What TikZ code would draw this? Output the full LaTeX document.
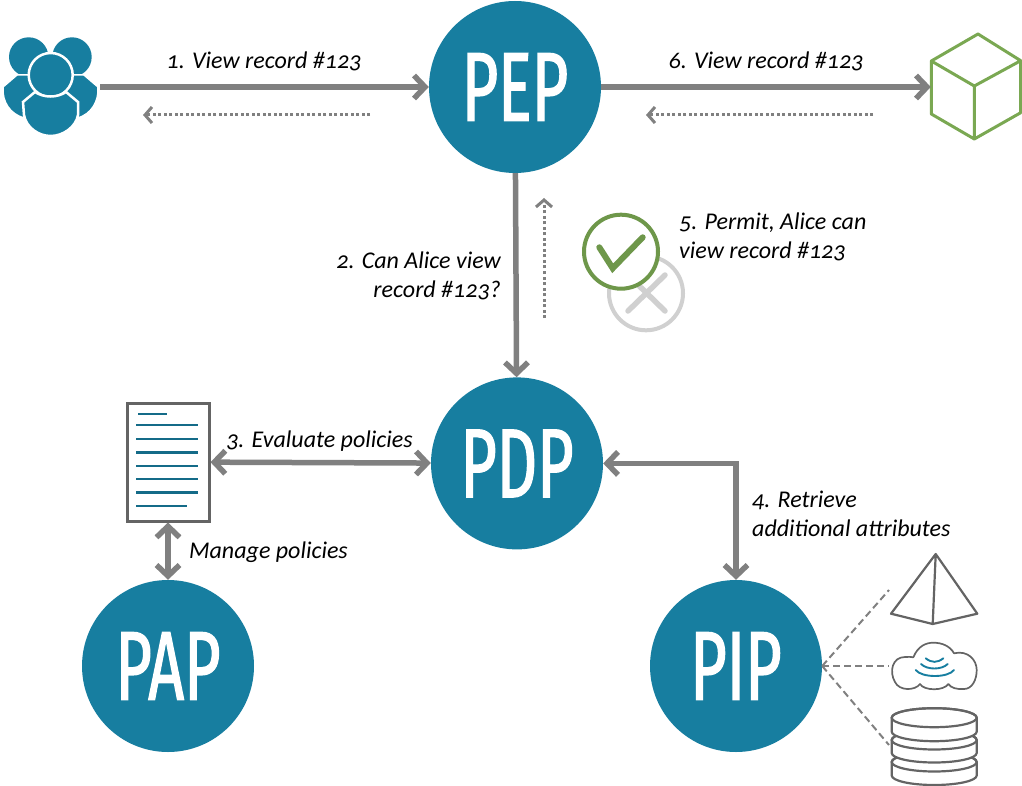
\documentclass[tikz,border=0pt]{standalone}
\usepackage{fontspec}
\setmainfont[Numbers=OldStyle]{Carlito}
\newfontfamily\bigfont[FakeStretch=0.64,FakeBold=1.2]{Fira Sans}
\usetikzlibrary{arrows.meta,positioning}
\definecolor{tealblue}{RGB}{23,126,160}
\definecolor{arrowgray}{RGB}{128,128,128}
\definecolor{icongray}{RGB}{100,100,100}
\definecolor{leafgreen}{RGB}{122,168,82}
\definecolor{softgray}{RGB}{208,208,208}
\tikzset{
  point/.style={circle, fill=tealblue, minimum size=172pt, inner sep=0pt, text=white,
                font=\bigfont\fontsize{98}{98}\selectfont},
  iconbox/.style={rectangle, minimum width=100pt, minimum height=100pt, inner sep=0pt},
  arrow/.style={-{Straight Barb[length=11pt, width=23pt]}, line width=5.5pt, arrowgray},
  arrowboth/.style={{Straight Barb[length=11pt, width=23pt]}-{Straight Barb[length=11pt, width=23pt]}, line width=5.5pt, arrowgray},
  arrowback/.style={-{Straight Barb[length=7pt, width=16pt]}, line width=3pt, arrowgray, dash pattern=on 3pt off 2.5pt},
  spoke/.style={line width=2pt, arrowgray, dash pattern=on 7pt off 4pt},
  steptext/.style={font=\fontsize{24}{29}\selectfont\itshape, inner sep=0pt},
  outline/.style={line width=2.2pt, icongray, line join=round},
}
\begin{document}
\begin{tikzpicture}[x=1pt, y=-1pt]
\useasboundingbox (0,0) rectangle (1022,786);

\node[point] (pep) at (515,87) {PEP};
\node[point, below=204pt of pep, xshift=2pt] (pdp) {PDP};
\node[point] (pap) at (168,666) {PAP};
\node[point] (pip) at (736,666) {PIP};

% people on the left
\node[iconbox] (users) at (50,87) {};
\fill[tealblue] (28.7,57) circle[radius=19.7pt] (72,57) circle[radius=19.7pt];
\fill[tealblue, draw=white, line width=1.5pt] (17,75) -- (3,87) .. controls (2,102) and (10,114) .. (24,118) -- (78,118)
  .. controls (91,114) and (99,102) .. (98,87) -- (84,75) -- cycle;
\fill[tealblue, draw=white, line width=2.5pt] (50.7,75) circle[radius=22pt];
\fill[tealblue, draw=white, line width=2.5pt] (23,102) -- (35,92) .. controls (44,98) and (57,98) .. (66,92) -- (78,102)
  -- (78,115) .. controls (76,127) and (63,136) .. (50.7,136) .. controls (38,136) and (26,127) .. (24,115) -- cycle;

% record box on the right
\node[iconbox, minimum width=90pt, minimum height=105pt] (record) at (976,87) {};
\draw[line width=3pt, leafgreen, line join=round] (978,34) -- (931.3,61) -- (931.3,114) -- (974.3,139) -- (1020.7,112.7)
  -- (1020.7,60.7) -- cycle (931.3,61) -- (974.3,86) -- (1020.7,60.7) (974.3,86) -- (974.3,139);

% policy sheet
\node[rectangle, draw=icongray, line width=3pt, fill=white, minimum width=82pt, minimum height=118pt] (sheet) at (168,462) {};
\draw[line width=2.4pt, tealblue!85!black] (138,414) -- (167,414);
\foreach \y in {425,438.7,452.3,465.7,479,492.3}
  \draw[line width=2.4pt, tealblue!85!black] (136,\y) -- (198,\y);
\draw[line width=2.4pt, tealblue!85!black] (136,506) -- (187,506);

% permit and deny marks
\draw[softgray, line width=4pt] (646,293.3) circle[radius=37pt];
\draw[softgray, line width=5.5pt, line cap=round] (628,311) -- (665,275) (628,275) -- (665,311);
\draw[leafgreen!90!black, fill=white, line width=4pt] (621,251.7) circle[radius=37pt];
\draw[leafgreen!90!black, line width=6pt, line cap=round] (599.3,247.3) -- (612.7,268.3) -- (642.7,237.3);

% data sources next to pip
\draw[outline, fill=white] (935.7,554) -- (891,613.7) -- (932.7,624) -- (977.3,613.7) -- cycle (935.7,554) -- (932.7,624);
\draw[outline, line width=1.7pt] (913.3,657.3) .. controls (918,646) and (926,642.7) .. (933.3,642.7)
  .. controls (942,642.7) and (950,646) .. (954,653.3) .. controls (968,650) and (976.7,660) .. (976.7,670)
  .. controls (976.7,680) and (972,689) .. (964,689) .. controls (957,689.5) and (951,688) .. (948.3,684)
  .. controls (944,691) and (924,691) .. (920,684) .. controls (915,691) and (899,691) .. (895,682)
  .. controls (889,672) and (892,657) .. (905,657) .. controls (908,656.5) and (911,657) .. (913.3,657.3) -- cycle;
\foreach \l/\r/\y/\c in {925.7/943.3/658.3/663, 921/947.7/664/670, 915.7/954/670/678}
  \draw[tealblue, line width=1.9pt, line cap=round] (\l,\y) .. controls (\l+6,\c) and (\r-6,\c) .. (\r,\y);
\foreach \top/\bot in {762/775.5, 740/753, 717.7/731.7} {
  \draw[outline, fill=white] (891.7,\top) -- (891.7,\bot) arc[start angle=180, end angle=360, x radius=42.5pt, y radius=9.5pt]
    -- (976.7,\top) arc[start angle=0, end angle=180, x radius=42.5pt, y radius=9.5pt] -- cycle;
  \draw[outline] (934.2,\top) ellipse[x radius=42.5pt, y radius=9.5pt];
}

\coordinate (usersback) at (143,115);
\coordinate (usersbackend) at (370,115);
\coordinate (recordback) at (646,115);
\coordinate (recordbackend) at (873,115);
\coordinate (pepback) at (544,198);
\coordinate (pepbackend) at (544,318);
\coordinate (pyramidend) at (889,590);
\coordinate (cloudend) at (889,666);
\coordinate (disksend) at (889,745);

\draw[arrow] (users) -- (pep);
\draw[arrow] (pep) -- (record.west);
\draw[arrow] (pep) -- (pdp);
\draw[arrowboth] (sheet) -- (pdp);
\draw[arrowboth] (sheet) -- (pap);
\draw[arrowboth] (pdp) -| (pip);

\foreach \a/\b in {usersbackend/usersback, recordbackend/recordback, pepbackend/pepback}
  \draw[arrowback] (\a) -- (\b);
\foreach \b in {pyramidend, cloudend, disksend}
  \draw[spoke] (pip.east) -- (\b);

\node[steptext] (view) at (264,61) {1. View record \#123};
\node[steptext] (forward) at (766,61) {6. View record \#123};
\node[steptext, align=right, anchor=east] (ask) at (501,275.5) {2. Can Alice view\\record \#123?};
\node[steptext] (evaluate) at (319.5,441) {3. Evaluate policies};
\node[steptext, align=left, anchor=west] (retrieve) at (752,513.5) {4. Retrieve\\additional attributes};
\node[steptext, align=left, anchor=west] (permit) at (679,236.5) {5. Permit, Alice can\\view record \#123};
\node[steptext] (manage) at (268.5,552) {Manage policies};
\end{tikzpicture}
\end{document}
